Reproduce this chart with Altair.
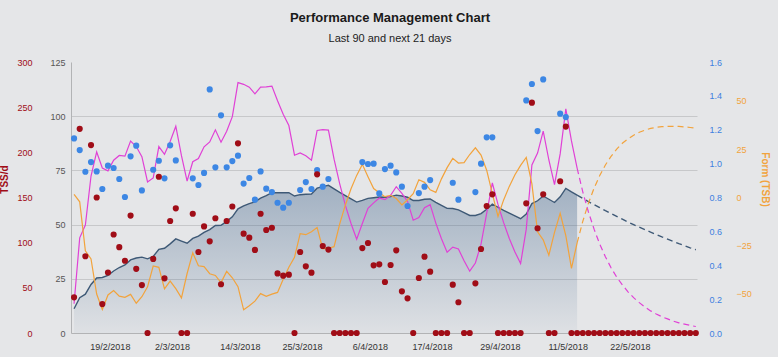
import altair as alt
import pandas as pd

start_date = "2018-02-13"
past_days = 90

# Training stress per day (last 90 days + 21 planned rest days)
tss = [39.5, 226, 85, 208, 150, 32, 67, 109, 95, 80,
       130, 71, 53, 0, 82, 173, 60.5, 124, 138, 0,
       0, 132, 89.7, 118, 101.5, 127, 54, 124, 140, 210,
       110, 105.5, 92, 132, 114, 116.5, 66, 63.5, 64.6, 0,
       89.7, 73.8, 66.8, 175.6, 96.3, 92.3, 0, 0, 0, 0,
       0, 94, 99.6, 74.9, 76, 56.5, 75.3, 91.5, 46.1, 38.4,
       0, 60.9, 84.5, 67.9, 0, 0, 0, 53.5, 34, 0,
       0, 55, 93, 140.6, 153.5, 0, 0, 0, 0, 0,
       143.5, 255, 116, 153.5, 0, 0, 168, 228.5, 0, 0,
       0, 0, 0, 0, 0, 0, 0, 0, 0, 0,
       0, 0, 0, 0, 0, 0, 0, 0, 0, 0, 0]

# Intensity factor (only on days with a workout)
intensity = [1.149, 1.080, 0.952, 1.009, 0.954, 0.850, 0.988, 0.974, 0.909, 0.803,
             1.043, 1.106, 0.842, None, 0.964, 1.017, 0.913, 1.108, 1.019, None,
             None, 0.913, 0.874, 0.945, 1.438, 0.978, 1.285, 0.978, 1.015, 1.047,
             0.882, 0.915, 0.787, 0.954, 0.852, 0.832, 0.769, 0.740, 0.769, None,
             0.844, 0.891, 0.850, 0.962, 0.864, 0.909, None, None, None, None,
             None, 1.009, 0.998, 1.000, 0.824, 0.968, 0.988, 0.948, 0.864, 0.750,
             None, 0.826, 0.864, 0.903, None, None, None, 0.887, 0.787, None,
             None, 0.832, 1.000, 1.155, 1.155, None, None, None, None, None,
             1.373, 1.470, 1.192, 1.497, None, None, 1.295, 1.275, None, None,
             None, None, None, None, None, None, None, None, None, None,
             None, None, None, None, None, None, None, None, None, None, None]

# Fitness (CTL)
ctl = [11.2, 16.3, 17.9, 22.4, 25.4, 25.6, 26.6, 28.6, 30.2, 31.4,
       33.7, 34.6, 35.0, 34.2, 35.3, 38.6, 39.1, 41.1, 43.4, 42.4,
       41.4, 43.6, 44.7, 46.4, 47.7, 49.6, 49.7, 51.5, 53.6, 57.3,
       58.6, 59.7, 60.5, 62.2, 63.4, 64.7, 64.7, 64.7, 64.7, 63.2,
       63.8, 64.0, 64.1, 66.8, 67.5, 68.1, 66.5, 64.9, 63.4, 61.9,
       60.4, 61.2, 62.1, 62.4, 62.7, 62.6, 62.9, 63.6, 63.2, 62.6,
       61.1, 61.1, 61.7, 61.8, 60.3, 58.9, 57.5, 57.4, 56.8, 55.5,
       54.2, 54.2, 55.1, 57.1, 59.4, 58.0, 56.6, 55.3, 54.0, 52.7,
       54.9, 59.7, 61.0, 63.2, 61.7, 60.2, 62.8, 66.7, 65.1, 63.6,
       62.1, 60.6, 59.2, 57.8, 56.4, 55.1, 53.8, 52.5, 51.2, 50.0,
       48.8, 47.7, 46.5, 45.4, 44.3, 43.3, 42.3, 41.2, 40.3, 39.3, 38.4]

# Fatigue (ATL)
atl = [13.5, 43.9, 49.8, 72.4, 83.5, 76.1, 74.8, 79.7, 81.9, 81.6,
       88.5, 86.0, 81.3, 69.7, 71.5, 86.0, 82.4, 88.3, 95.4, 81.8,
       70.1, 79.0, 80.5, 85.9, 88.1, 93.7, 88.0, 93.1, 99.8, 115.5,
       114.7, 113.4, 110.3, 113.4, 113.5, 113.9, 107.1, 100.9, 95.7, 82.0,
       83.1, 81.8, 79.7, 93.4, 93.8, 93.6, 80.2, 68.8, 58.9, 50.5,
       43.3, 50.5, 57.5, 60.0, 62.3, 61.5, 63.5, 67.5, 64.4, 60.7,
       52.0, 53.3, 57.8, 59.2, 50.7, 43.5, 37.3, 39.6, 38.8, 33.3,
       28.5, 32.3, 41.0, 55.2, 69.2, 59.3, 50.9, 43.6, 37.4, 32.0,
       47.9, 77.5, 83.0, 93.1, 79.8, 68.4, 82.6, 103.4, 88.6, 76.0,
       65.1, 55.8, 47.9, 41.0, 35.2, 30.1, 25.8, 22.2, 19.0, 16.3,
       14.0, 12.0, 10.2, 8.8, 7.5, 6.5, 5.5, 4.7, 4.1, 3.5, 3.0]

# Form (TSB)
tsb = [1.6, -2.3, -27.6, -31.9, -50.0, -58.1, -50.5, -48.2, -51.1, -51.7,
       -50.2, -54.8, -51.4, -46.3, -35.5, -36.2, -47.4, -43.3, -47.2, -52.0,
       -39.4, -28.7, -35.4, -35.8, -39.5, -40.4, -44.1, -38.3, -41.6, -46.2,
       -58.2, -56.1, -53.7, -49.8, -51.2, -50.1, -49.2, -42.4, -36.2, -31.0,
       -18.8, -19.3, -17.8, -15.6, -26.6, -26.3, -25.5, -13.7, -3.9, 4.5,
       11.4, 17.1, 10.7, 4.6, 2.4, 0.4, 1.1, -0.6, -3.9, -1.2,
       1.9, 9.1, 7.8, 3.9, 2.6, 9.6, 15.4, 20.2, 17.8, 18.0,
       22.2, 25.7, 21.9, 14.1, 1.9, -9.8, -1.3, 5.7, 11.7, 16.6,
       20.7, 7.0, -17.8, -22.0, -29.9, -18.1, -8.2, -19.8, -36.7, -23.5,
       -12.4, -3.0, 4.8, 11.3, 16.8, 21.2, 25.0, 28.0, 30.3, 32.2,
       33.7, 34.8, 35.7, 36.3, 36.6, 36.8, 36.8, 36.8, 36.5, 36.2, 35.8]

tick_dates = ["2018-02-19", "2018-03-02", "2018-03-14", "2018-03-25", "2018-04-06",
              "2018-04-17", "2018-04-29", "2018-05-11", "2018-05-22"]
load_ticks = [0, 25, 50, 75, 100, 125]
grid_ticks = [25, 50, 75, 100]
tss_ticks = [0, 50, 100, 150, 200, 250, 300]
if_ticks = [0.0, 0.2, 0.4, 0.6, 0.8, 1.0, 1.2, 1.4, 1.6]
tsb_ticks = [-50, -25, 0, 25, 50]

df = pd.DataFrame({
    "date": pd.date_range(start_date, periods=len(tss)),
    "tss": tss, "ifv": intensity, "ctl": ctl, "atl": atl, "tsb": tsb,
})
df["day"] = range(len(df))
past = df[df["day"] < past_days]
future = df[df["day"] >= past_days - 1]
if_df = df.dropna(subset=["ifv"])

FONT = "Liberation Sans"
RED = "#a00d17"
BLUE = "#3d87e4"
PINK = "#e041d6"
ORANGE = "#f2a33c"
SLATE = "#3e5976"


def dt(s, h=0):
    t = pd.Timestamp(s)
    return alt.DateTime(year=t.year, month=t.month, date=t.day, hours=h)


xenc = alt.X(
    "date:T",
    scale=alt.Scale(domain=[dt("2018-02-12", 11), dt("2018-06-03", 5)]),
    axis=alt.Axis(values=[dt(s, 8) for s in tick_dates], format="%-d/%-m/%Y",
                  labelFontSize=9, labelColor="#333333", labelPadding=9,
                  ticks=False, grid=False, domainColor="#b2b3b5",
                  labelOverlap=False, title=None),
)

load_scale = alt.Scale(domain=[0, 125], nice=False, zero=False)

gradient = alt.Gradient(
    gradient="linear",
    stops=[alt.GradientStop(color="rgba(52,90,132,0.38)", offset=0),
           alt.GradientStop(color="rgba(52,90,132,0.04)", offset=1)],
    x1=0, x2=0, y1=0, y2=1,
)

area = alt.Chart(past).mark_area(color=gradient).encode(
    x=xenc,
    y=alt.Y("ctl:Q", scale=load_scale,
            axis=alt.Axis(orient="left", values=load_ticks, grid=False, ticks=False,
                          domainColor="#b2b3b5", labelColor="#555555", labelFontSize=9,
                          labelPadding=6, title=None)),
)

ctl_line = alt.Chart(past).mark_line(color=SLATE, strokeWidth=1.4).encode(
    x=xenc,
    y=alt.Y("ctl:Q", scale=load_scale,
            axis=alt.Axis(orient="left", values=grid_ticks, grid=True, gridColor="#c7c8ca",
                          labels=False, ticks=False, domain=False, title=None)),
)
ctl_future = alt.Chart(future).mark_line(color=SLATE, strokeWidth=1.4, strokeDash=[6, 4]).encode(
    x=xenc, y=alt.Y("ctl:Q", scale=load_scale, axis=None),
)

atl_line = alt.Chart(past).mark_line(color=PINK, strokeWidth=1.2).encode(
    x=xenc, y=alt.Y("atl:Q", scale=load_scale, axis=None),
)
atl_future = alt.Chart(future).mark_line(color=PINK, strokeWidth=1.2, strokeDash=[6, 4]).encode(
    x=xenc, y=alt.Y("atl:Q", scale=load_scale, axis=None),
)

tsb_scale = alt.Scale(domain=[-70.2, 70.1], nice=False, zero=False)
tsb_line = alt.Chart(past).mark_line(color=ORANGE, strokeWidth=1.2).encode(
    x=xenc,
    y=alt.Y("tsb:Q", scale=tsb_scale,
            axis=alt.Axis(orient="right", offset=30, values=tsb_ticks, grid=False, ticks=False,
                          domain=False, labelColor=ORANGE, labelFontSize=9, labelPadding=9,
                          title="Form (TSB)", titleColor=ORANGE, titleFontSize=10,
                          titleFontWeight="bold", titlePadding=8, titleY=117)),
)
tsb_future = alt.Chart(future).mark_line(color=ORANGE, strokeWidth=1.2, strokeDash=[6, 4]).encode(
    x=xenc, y=alt.Y("tsb:Q", scale=tsb_scale, axis=None),
)

if_dots = alt.Chart(if_df).mark_circle(color=BLUE, size=38, opacity=1).encode(
    x=xenc,
    y=alt.Y("ifv:Q", scale=alt.Scale(domain=[0, 1.6], nice=False, zero=False),
            axis=alt.Axis(orient="right", offset=0, values=if_ticks, format=".1f", grid=False,
                          ticks=False, domain=False, labelColor="#3d7fe0", labelFontSize=9,
                          labelPadding=12, title=None)),
)

tss_dots = alt.Chart(df).mark_circle(color=RED, size=38, opacity=1).encode(
    x=xenc,
    y=alt.Y("tss:Q", scale=alt.Scale(domain=[0, 300], nice=False, zero=False),
            axis=alt.Axis(orient="left", offset=33, values=tss_ticks, grid=False, ticks=False,
                          domain=False, labelColor=RED, labelFontSize=9, labelPadding=6,
                          title="TSS/d", titleColor=RED, titleFontSize=10,
                          titleFontWeight="bold", titlePadding=7, titleY=117)),
)

chart = alt.layer(
    area, ctl_line, ctl_future, atl_line, atl_future, tsb_line, tsb_future, if_dots, tss_dots
).resolve_scale(y="independent").resolve_axis(y="independent").properties(
    width=626, height=271,
    autosize=alt.AutoSizeParams(type="none"),
    padding={"left": 71, "top": 62, "right": 81, "bottom": 24},
    title=alt.TitleParams(
        "Performance Management Chart",
        subtitle="Last 90 and next 21 days",
        fontSize=13, fontWeight="bold", color="#1a1a1a", font=FONT,
        subtitleFontSize=11, subtitleColor="#222222", subtitleFont=FONT,
        subtitlePadding=8, anchor="middle", offset=14, dx=6,
    ),
).configure(
    background="#e5e6e8", font=FONT,
).configure_view(stroke=None).configure_axis(labelFont=FONT, titleFont=FONT)

chart.save("out.html", embed_options={"renderer": "svg", "actions": False})
